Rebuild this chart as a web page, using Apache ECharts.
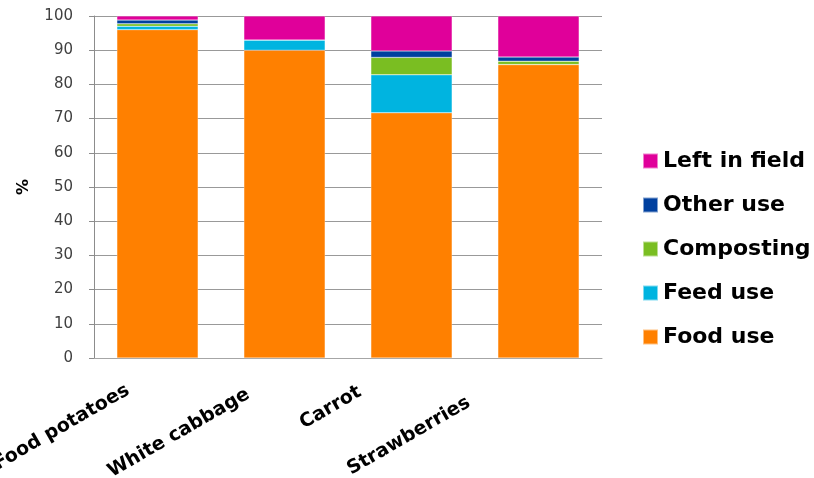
<!DOCTYPE html>
<html>
<head>
<meta charset="utf-8">
<script src="https://cdn.jsdelivr.net/npm/echarts@6/dist/echarts.min.js"></script>
<style>
html,body{margin:0;padding:0;background:#fff;}
#main{width:814px;height:478px;}
</style>
</head>
<body>
<div id="main"></div>
<script>
var crops = ['Food potatoes', 'White cabbage', 'Carrot', 'Strawberries'];
var foodUse = [96, 90, 71.7, 85.8];
var feedUse = [1, 3, 11.1, 0];
var composting = [0.7, 0, 5.1, 1];
var otherUse = [1.1, 0, 1.9, 1.2];
var leftInField = [1.2, 7, 10.2, 12];
var yTicks = [0, 100, 10];

function initChart(){
	var myChart = echarts.init(document.getElementById('main'));
	var font = '"DejaVu Sans", Verdana, sans-serif';
	// excel puts each rotated label a bit differently, nudge them
	var labelPad = [[11, 34, 0, 0], [0, 42, 2, 0], [0, 54, 0, 0], [0, 75, 0, 0]];
	var labelVa = ['middle', 'middle', 'bottom', 'bottom'];
	var cats = [];
	for(var i=0;i<crops.length;i++){
		cats.push({value: crops[i], textStyle: {padding: labelPad[i], verticalAlign: labelVa[i]}});
	}
	var mk = function(name, data, color){
		return {
			name: name,
			type: 'bar',
			stack: 'total',
			barWidth: '64%',
			data: data,
			itemStyle: {color: color, borderColor: 'rgba(255,255,255,0.5)', borderWidth: 0.5}
		};
	};
	var option = {
		animation: false,
		textStyle: {fontFamily: font},
		grid: {left: 94, right: 212, top: 16, bottom: 120, outerBoundsMode: 'none', containLabel: false},
		legend: {
			orient: 'vertical',
			left: 637,
			top: 145,
			itemWidth: 15,
			itemHeight: 15,
			itemGap: 22,
			icon: 'rect',
			data: ['Left in field', 'Other use', 'Composting', 'Feed use', 'Food use'],
			textStyle: {fontSize: 22, fontWeight: 'bold', color: '#000', fontFamily: font}
		},
		xAxis: {
			type: 'category',
			data: cats,
			axisLine: {lineStyle: {color: '#a6a6a6'}},
			axisTick: {show: false},
			axisLabel: {
				interval: 0,
				rotate: 30,
				fontSize: 19,
				fontWeight: 'bold',
				color: '#000',
				margin: 14
			}
		},
		yAxis: {
			type: 'value',
			min: yTicks[0],
			max: yTicks[1],
			interval: yTicks[2],
			name: '%',
			nameLocation: 'middle',
			nameGap: 62,
			nameRotate: 90,
			nameTextStyle: {fontSize: 16, fontWeight: 'bold', color: '#000'},
			axisLine: {show: true, lineStyle: {color: '#8c8c8c'}},
			axisTick: {show: true, length: 5, lineStyle: {color: '#8c8c8c'}},
			axisLabel: {fontSize: 15, color: '#404040', margin: 21},
			splitLine: {lineStyle: {color: '#999999'}}
		},
		series: [
			mk('Food use', foodUse, '#ff8000'),
			mk('Feed use', feedUse, '#00b4e0'),
			mk('Composting', composting, '#7abe22'),
			mk('Other use', otherUse, '#00409f'),
			mk('Left in field', leftInField, '#e0009a')
		]
	};
	myChart.setOption(option);
}
initChart();
</script>
</body>
</html>
